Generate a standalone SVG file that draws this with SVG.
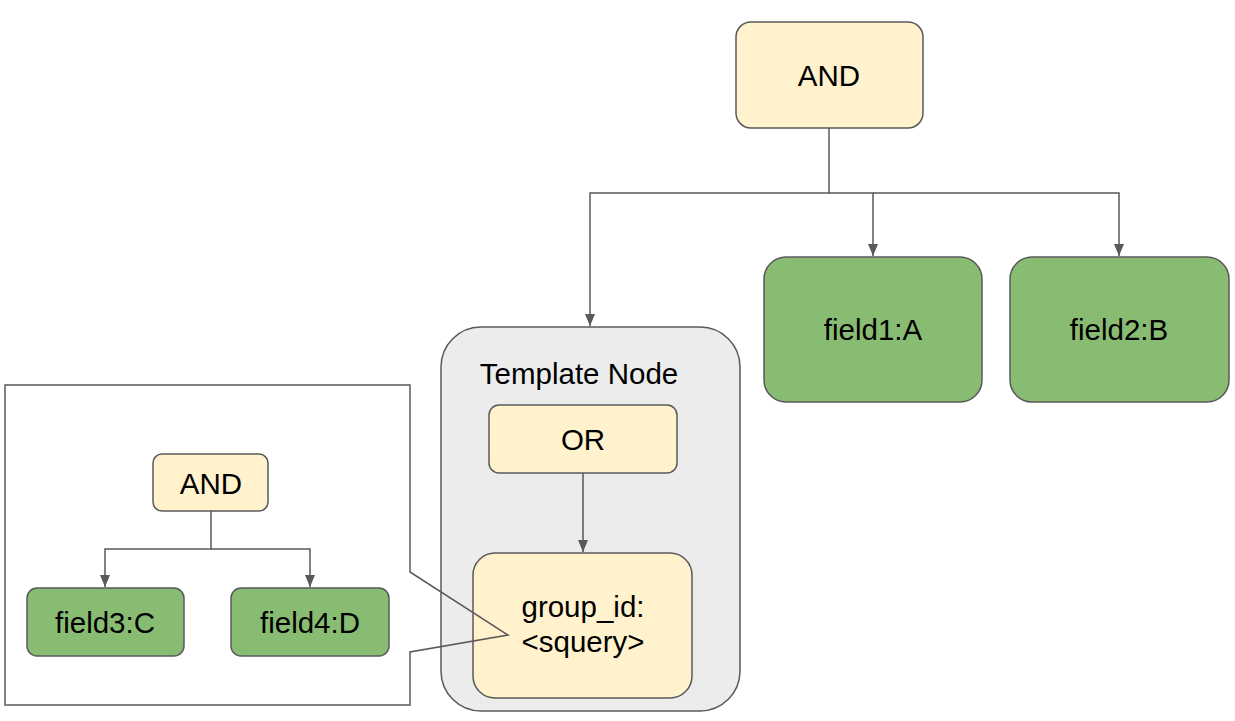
<svg xmlns="http://www.w3.org/2000/svg" width="1235" height="721" viewBox="0 0 1235 721">
<style>
.y{fill:#fff2cc;stroke:#595959;stroke-width:1.5}
.g{fill:#88bc73;stroke:#595959;stroke-width:1.5}
.c{fill:#ececec;stroke:#595959;stroke-width:1.5}
.t{font-family:"Liberation Sans",Arial,sans-serif;font-size:29.5px;fill:#000;text-anchor:middle}
.e{fill:none;stroke:#595959;stroke-width:1.5}
</style>
<defs>
<marker id="ah" markerUnits="userSpaceOnUse" markerWidth="12" markerHeight="12" refX="12" refY="5" orient="auto">
<path d="M0,0 L12,5 L0,10 z" fill="#595959"/>
</marker>
</defs>
<rect width="1235" height="721" fill="#fff"/>
<g id="template">
<rect class="c" x="441" y="327" width="299" height="384" rx="40"/>
<text class="t" x="579" y="384">Template Node</text>
</g>
<g id="and-top">
<rect class="y" x="736" y="22" width="187" height="106" rx="15"/>
<text class="t" x="829" y="86">AND</text>
</g>
<g id="field1">
<rect class="g" x="764" y="257" width="218" height="145" rx="22"/>
<text class="t" x="873" y="340">field1:A</text>
</g>
<g id="field2">
<rect class="g" x="1010" y="257" width="219" height="145" rx="22"/>
<text class="t" x="1119" y="340">field2:B</text>
</g>
<g id="or">
<rect class="y" x="489" y="405" width="188" height="68" rx="10"/>
<text class="t" x="583" y="450">OR</text>
</g>
<g id="group">
<rect class="y" x="473" y="553" width="219" height="145" rx="22"/>
<text class="t" x="583" y="617">group_id:</text>
<text class="t" x="583" y="652">&lt;squery&gt;</text>
</g>
<g id="callout">
<polygon points="5,385 410,385 410,572 508,635 410,652 410,705 5,705" fill="none" stroke="#595959" stroke-width="1.5"/>
</g>
<g id="and-inner">
<rect class="y" x="153" y="454" width="115" height="57" rx="9"/>
<text class="t" x="211" y="494">AND</text>
</g>
<g id="field3">
<rect class="g" x="27" y="588" width="157" height="68" rx="10"/>
<text class="t" x="105" y="633">field3:C</text>
</g>
<g id="field4">
<rect class="g" x="231" y="588" width="158" height="68" rx="10"/>
<text class="t" x="310" y="633">field4:D</text>
</g>
<g id="connectors">
<path class="e" d="M829,128 V193 H590 V326" marker-end="url(#ah)"/>
<path class="e" d="M829,193 H873 V256" marker-end="url(#ah)"/>
<path class="e" d="M873,193 H1119 V256" marker-end="url(#ah)"/>
<path class="e" d="M583,473 V552" marker-end="url(#ah)"/>
<path class="e" d="M211,511 V549 H105 V587" marker-end="url(#ah)"/>
<path class="e" d="M211,549 H310 V587" marker-end="url(#ah)"/>
</g>
</svg>
